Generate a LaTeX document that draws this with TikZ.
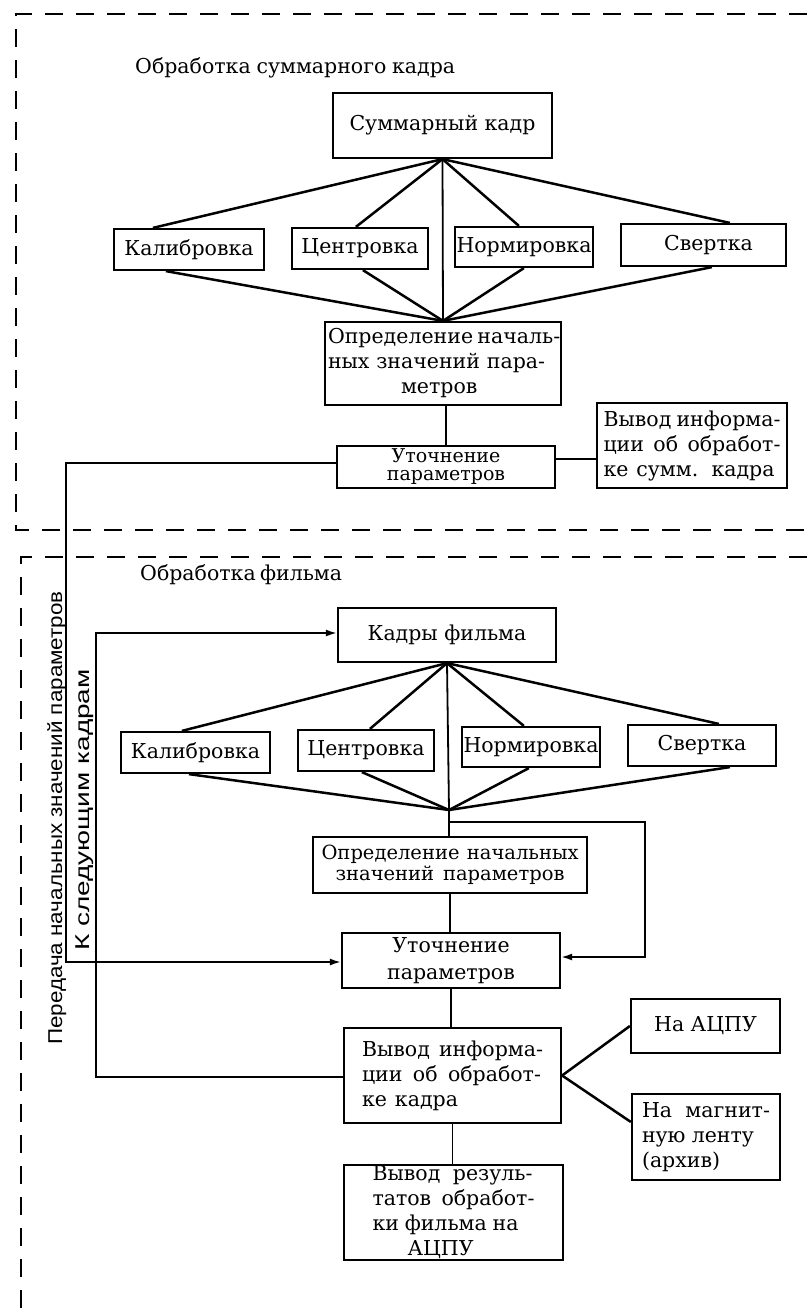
\documentclass[tikz,border=0pt]{standalone}
\usepackage{fontspec}
\setmainfont{DejaVu Serif}
\newfontfamily\rotfont{Liberation Sans}
\usetikzlibrary{arrows.meta,calc}
\newcommand{\jline}[2]{\makebox[#1][s]{#2}}
\begin{document}
\begin{tikzpicture}[x=1pt,y=-1pt,
  box/.style={draw, line width=2.2pt, inner sep=0pt, font=\fontsize{20.5}{25}\selectfont, align=center},
  fan/.style={line width=2.5pt},
  conn/.style={line width=1.8pt},
  arr/.style={conn, -{Latex[length=11pt,width=7pt]}},
  frame/.style={line width=2.5pt, dash pattern=on 18pt off 13pt},
  lbl/.style={font=\fontsize{20.5}{25}\selectfont, inner sep=0pt},
  rot/.style={rotate=90, anchor=base, inner sep=0pt, font=\rotfont\fontsize{20}{22}\selectfont}]

\useasboundingbox (0,0) rectangle (807,1314);
\fill[white] (0,0) rectangle (807,1314);

% dashed frames
\draw[frame] (807,14) -- (16,14) -- (16,530) -- (807,530);
\draw[frame] (807,557) -- (21,557) -- (21,1314);

% titles
\node[lbl, anchor=base west] (title1) at (135,74) {\jline{320pt}{Обработка суммарного кадра}};
\node[lbl, anchor=base west] (title2) at (140,580) {\jline{197pt}{Обработка фильма}};

% ---- top section ----
\node[box, minimum width=219pt, minimum height=65pt] (sum) at (442.5,125.5) {Суммарный кадр};
\node[box, minimum width=150pt, minimum height=41pt] (k1) at (189,249.5) {Калибровка};
\node[box, minimum width=136pt, minimum height=41pt] (c1) at (360,248.5) {Центровка};
\node[box, minimum width=138pt, minimum height=40pt] (n1) at (524,247) {Нормировка};
\node[box, minimum width=165pt, minimum height=42pt] (s1) at (703.5,245) {\hspace*{10pt}Свертка};
\node[box, minimum width=236pt, minimum height=83pt, align=left] (o1) at (443,363.5)
  {\jline{230pt}{Определение началь-}\\\jline{217pt}{ных значений пара-}\\\hspace*{73pt}метров};
\node[box, minimum width=218pt, minimum height=42pt, font=\fontsize{19}{18}\selectfont] (u1) at (446,467) {Уточнение\\параметров};
\node[box, minimum width=190pt, minimum height=85pt, align=left] (v1) at (692,445.5)
  {\jline{177pt}{Вывод информа-}\\\jline{177pt}{ции об обработ-}\\\jline{171pt}{ке сумм. кадра}};

\draw[fan] (sum.south) -- ([xshift=40pt]k1.north west);
\draw[fan] (sum.south) -- ([xshift=65pt]c1.north west);
\draw[fan] (sum.south) -- ([xshift=65pt]n1.north west);
\draw[fan] (sum.south) -- ([xshift=110pt]s1.north west);
\draw[conn] (sum.south) -- (o1.north);
\draw[fan] ([xshift=53pt]k1.south west) -- (o1.north);
\draw[fan] ([xshift=72pt]c1.south west) -- (o1.north);
\draw[fan] ([xshift=70pt]n1.south west) -- (o1.north);
\draw[fan] ([xshift=92pt]s1.south west) -- (o1.north);
\draw[conn] ([xshift=3pt]o1.south) -- ([xshift=3pt]o1.south |- u1.north);
\draw[conn] ([yshift=8pt]u1.east) -- ([yshift=8pt]u1.east -| v1.west);

% ---- bottom section ----
\node[box, minimum width=218pt, minimum height=54pt] (kf) at (447,635) {Кадры фильма};
\node[box, minimum width=149pt, minimum height=41pt] (k2) at (195.5,752.5) {Калибровка};
\node[box, minimum width=136pt, minimum height=41pt] (c2) at (366,750.5) {Центровка};
\node[box, minimum width=138pt, minimum height=40pt] (n2) at (531,747) {Нормировка};
\node[box, minimum width=148pt, minimum height=41pt] (s2) at (702,745.5) {Свертка};
\node[box, minimum width=274pt, minimum height=56pt, font=\fontsize{19.5}{21}\selectfont] (o2) at (450,865)
  {\jline{257pt}{Определение начальных}\\\jline{229pt}{значений параметров}};
\node[box, minimum width=218pt, minimum height=55pt, font=\fontsize{20.5}{27}\selectfont] (u2) at (451,960.5) {Уточнение\\параметров};
\node[box, minimum width=217pt, minimum height=95pt, align=left] (v2) at (452.5,1075.5)
  {\jline{181pt}{Вывод информа-}\\\jline{179pt}{ции об обработ-}\\\jline{96pt}{ке кадра}};
\node[box, minimum width=149pt, minimum height=54pt] (a) at (705.5,1026) {На АЦПУ};
\node[box, minimum width=148pt, minimum height=86pt, align=left] (m) at (706,1137)
  {\jline{128pt}{На магнит-}\\\jline{112pt}{ную ленту}\\(архив)};
\node[box, minimum width=219pt, minimum height=95pt, align=left] (r) at (453.5,1212.5)
  {\jline{160pt}{Вывод резуль-}\\\jline{162pt}{татов обработ-}\\\jline{146pt}{ки фильма на}\\\hspace*{35pt}АЦПУ};

\coordinate (b2) at (449,810);
\coordinate (br) at (449,822);
\draw[fan] (kf.south) -- ([xshift=62pt]k2.north west);
\draw[fan] (kf.south) -- ([xshift=73pt]c2.north west);
\draw[fan] (kf.south) -- ([xshift=63pt]n2.north west);
\draw[fan] (kf.south) -- ([xshift=92pt]s2.north west);
\draw[conn] (kf.south) -- (b2) -- (b2 |- o2.north);
\draw[fan] ([xshift=69pt]k2.south west) -- (b2);
\draw[fan] ([xshift=65pt]c2.south west) -- (b2);
\draw[fan] ([xshift=68pt]n2.south west) -- (b2);
\draw[fan] ([xshift=103pt]s2.south west) -- (b2);
\draw[conn] (o2.south) -- (o2.south |- u2.north);
\draw[conn] (u2.south) -- (u2.south |- v2.north);
\draw[conn] (v2.south) -- (v2.south |- r.north);
\draw[fan] (v2.east) -- (a.west);
\draw[fan] (v2.east) -- ([yshift=15pt]m.west);

% right feedback
\coordinate (R1) at (645,822);
\coordinate (R2) at (645,957);
\draw[arr] (br) -- (R1) -- (R2) -- (u2.east |- R2);

% left line from top section
\coordinate (L1) at (66,463);
\coordinate (L2) at (66,962);
\draw[arr] ([yshift=4pt]u1.west) -- (L1) -- (L2) -- (u2.west |- L2);

% loop to next frames
\coordinate (P1) at (96,1077);
\coordinate (P2) at (96,633);
\draw[arr] (v2.west |- P1) -- (P1) -- (P2) -- (kf.west |- P2);

% rotated labels
\node[rot] (t1) at (62,818) {\scalebox{1.12}[1]{Передача начальных значений параметров}};
\node[rot] (t2) at (89,810) {\scalebox{1.4}[1]{К следующим кадрам}};
\end{tikzpicture}
\end{document}
